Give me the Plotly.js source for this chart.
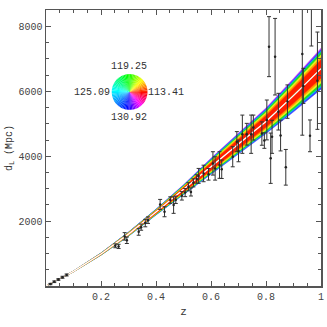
<!DOCTYPE html>
<html>
<head>
<meta charset="utf-8">
<script src="https://cdn.plot.ly/plotly-3.0.1.min.js"></script>
<style>html,body{margin:0;padding:0;background:#fff;}#chart{width:327px;height:327px;}</style>
</head>
<body>
<div id="chart"></div>
<script>
// ---- model band ----
const zGrid   = [0, 0.1, 0.2, 0.3, 0.4, 0.5, 0.6, 0.7, 0.8, 0.9, 1.0];
const dCenter = [0, 450, 985, 1600, 2280, 2970, 3680, 4380, 5070, 5870, 6700];
const dUpper  = [0, 465, 1020, 1665, 2370, 3120, 3940, 4710, 5490, 6400, 7330];
const dLower  = [0, 435, 950, 1535, 2190, 2820, 3440, 4070, 4700, 5370, 6070];

// ---- observed points with errors ----
const zData = [0.016,0.03,0.045,0.06,0.075,
  0.252,0.264,0.286,0.294,0.337,0.346,0.361,0.371,0.415,0.431,0.452,0.464,0.472,
  0.494,0.506,0.518,0.527,0.536,0.548,0.555,0.573,0.591,0.607,0.615,0.631,0.639,
  0.679,0.694,0.700,0.714,0.730,0.746,0.754,0.785,0.794,0.803,0.811,0.817,0.822,
  0.833,0.845,0.853,0.872,0.878,0.932,0.936,0.960,0.965,0.987];
const dData = [60,130,200,270,340,
  1240,1220,1530,1410,1670,1815,1940,2030,2515,2290,2650,2495,2660,
  2780,2880,3060,2900,3180,3300,3395,3470,3445,3780,3625,3730,3600,
  3985,4450,4165,4680,4680,4680,4885,4700,4485,5120,7380,3940,4600,
  7070,5375,4640,3660,5685,7150,6170,4630,8900,6330];
const eData = [20,25,25,30,30,
  60,65,115,100,105,95,115,100,155,155,100,255,115,
  130,125,125,125,125,130,230,255,180,360,360,410,285,
  310,310,335,590,335,590,385,360,240,615,925,776,510,
  1180,566,475,550,515,2500,540,490,1500,1500];

// ---- colour key labels ----
const keyLabels = ['113.41', '119.25', '125.09', '130.92'];

// ---- styles ----
const FONT = 'Liberation Mono, DejaVu Sans Mono, monospace';
const upperLayers = [
  {f: 1.00, c: '#c040ff'}, {f: 0.93, c: '#3c3cff'}, {f: 0.86, c: '#00b8ff'},
  {f: 0.80, c: '#22dd22'}, {f: 0.67, c: '#eef020'}, {f: 0.55, c: '#ff9600'},
  {f: 0.43, c: '#ff1e00'}];
const lowerLayers = [
  {f: 1.00, c: '#3c3cff'}, {f: 0.90, c: '#00b8ff'}, {f: 0.83, c: '#22dd22'},
  {f: 0.70, c: '#eef020'}, {f: 0.58, c: '#ff9600'}, {f: 0.46, c: '#ff1e00'}];

const traces = [];
function layer(edge, f, color) {
  const outer = dCenter.map((c, i) => c + f * (edge[i] - c));
  const xs = zGrid.concat(zGrid.slice().reverse());
  const ys = outer.concat(dCenter.slice().reverse());
  traces.push({x: xs, y: ys, type: 'scatter', mode: 'lines', fill: 'toself',
    fillcolor: color, line: {width: 0.5, color: color}, hoverinfo: 'skip', showlegend: false});
}
upperLayers.forEach(l => layer(dUpper, l.f, l.c));
lowerLayers.forEach(l => layer(dLower, l.f, l.c));

traces.push({x: zGrid, y: dCenter, type: 'scatter', mode: 'lines',
  line: {color: '#ffffff', width: 1.3}, hoverinfo: 'skip', showlegend: false});

traces.push({x: zData, y: dData, type: 'scatter', mode: 'markers',
  marker: {size: 2.5, color: '#222'},
  error_y: {type: 'data', array: eData, visible: true, color: '#333', thickness: 1, width: 2},
  showlegend: false});

// hue wheel key (pie)
const nSlices = 72;
const hueOf = a => a < 90 ? a * 110 / 90 : a < 180 ? 110 + (a - 90) * 70 / 90 :
                   a < 270 ? 180 + (a - 180) * 60 / 90 : 240 + (a - 270) * 120 / 90;
const wheelColors = [];
for (let i = 0; i < nSlices; i++) {
  const a = (i + 0.5) * 360 / nSlices;
  wheelColors.push('hsl(' + hueOf(a).toFixed(1) + ',100%,50%)');
}
traces.push({type: 'pie', values: new Array(nSlices).fill(1), sort: false,
  direction: 'counterclockwise', rotation: 90, textinfo: 'none', hoverinfo: 'skip',
  marker: {colors: wheelColors, line: {width: 0}}, showlegend: false,
  domain: {x: [0.239, 0.369], y: [0.638, 0.768]}});

const annFont = {family: FONT, size: 10, color: '#333'};
const layout = {
  width: 327, height: 327,
  margin: {l: 46, r: 6, t: 10, b: 41},
  paper_bgcolor: '#fff', plot_bgcolor: '#fff',
  showlegend: false,
  font: {family: FONT, size: 10, color: '#333'},
  xaxis: {range: [0, 1], tickmode: 'array', tickvals: [0.2, 0.4, 0.6, 0.8, 1],
    ticktext: ['0.2', '0.4', '0.6', '0.8', '1'],
    ticks: 'inside', ticklen: 5, tickcolor: '#555', tickwidth: 1,
    minor: {tickmode: 'linear', tick0: 0, dtick: 0.05, ticks: 'inside', ticklen: 3, tickcolor: '#555'},
    showline: true, linecolor: '#555', linewidth: 1.5, mirror: 'allticks',
    showgrid: false, zeroline: false,
    tickfont: {family: FONT, size: 10, color: '#444'},
    title: {text: 'z', font: {family: FONT, size: 11, color: '#333'}, standoff: 6}},
  yaxis: {range: [0, 8510], tickmode: 'array', tickvals: [2000, 4000, 6000, 8000],
    ticktext: ['2000', '4000', '6000', '8000'],
    ticks: 'inside', ticklen: 5, tickcolor: '#555', tickwidth: 1,
    minor: {tickmode: 'linear', tick0: 0, dtick: 500, ticks: 'inside', ticklen: 3, tickcolor: '#555'},
    showline: true, linecolor: '#555', linewidth: 1.5, mirror: 'allticks',
    showgrid: false, zeroline: false,
    tickfont: {family: FONT, size: 10, color: '#444'},
    title: {text: 'd<sub>L</sub> (Mpc)', font: {family: FONT, size: 10, color: '#333'}, standoff: 4}},
  annotations: [
    {text: keyLabels[0], x: 146, y: 92, xanchor: 'left', yanchor: 'middle'},
    {text: keyLabels[1], x: 129.3, y: 66, xanchor: 'center', yanchor: 'middle'},
    {text: keyLabels[2], x: 112, y: 92, xanchor: 'right', yanchor: 'middle'},
    {text: keyLabels[3], x: 129.3, y: 118, xanchor: 'center', yanchor: 'middle'}
  ].map(a => ({text: a.text, xref: 'paper', yref: 'paper',
      x: (a.x - 46) / 275, y: (286 - a.y) / 276,
      xanchor: a.xanchor, yanchor: a.yanchor, showarrow: false, font: annFont}))
};

Plotly.newPlot('chart', traces, layout, {displayModeBar: false, staticPlot: true});
</script>
</body>
</html>
